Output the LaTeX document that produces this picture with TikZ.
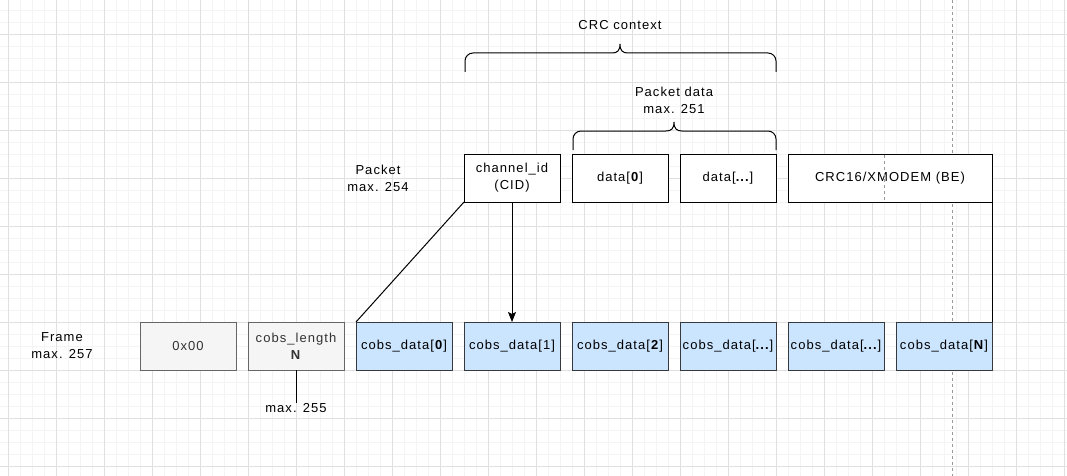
\documentclass[tikz,border=0pt]{standalone}
\usepackage{fontspec}
\setmainfont{Liberation Sans}[LetterSpace=8]
\usepackage{xcolor}
\usepackage{tikz}
\usetikzlibrary{arrows.meta}
\definecolor{gridmajor}{HTML}{E0E0E0}
\definecolor{gridminor}{HTML}{F4F4F4}
\definecolor{greyfill}{HTML}{F5F5F5}
\definecolor{greyline}{HTML}{666666}
\definecolor{greytext}{HTML}{333333}
\definecolor{bluefill}{HTML}{CCE5FF}
\definecolor{blueline}{HTML}{36393D}

\begin{document}
\begin{tikzpicture}[
    x=1pt, y=-1pt,
    node distance=108pt,
    font=\fontsize{13}{17}\selectfont,
    field/.style={rectangle, draw, line width=1pt,
                  minimum width=96pt, minimum height=48pt,
                  inner sep=0pt, outer sep=0pt, align=center},
    fixed/.style={field, fill=greyfill, draw=greyline, text=greytext},
    cobs/.style={field, fill=bluefill, draw=blueline},
    pkt/.style={field, fill=white, draw=black},
    caption/.style={align=center, inner sep=0pt},
    conn/.style={line width=1pt},
    curly/.style={line width=1pt},
    pagebreak/.style={draw=black!40, line width=0.8pt, dash pattern=on 3pt off 3pt}
]
\useasboundingbox[fill=white] (0,0) rectangle (1067,476);
\foreach \x in {-4,8,...,1064} \draw[gridminor, line width=0.8pt] (\x,0) -- (\x,476);
\foreach \y in {-2,10,...,470} \draw[gridminor, line width=0.8pt] (0,\y) -- (1067,\y);
\foreach \x in {8,56,...,1064} \draw[gridmajor, line width=0.8pt] (\x,0) -- (\x,476);
\foreach \y in {34,82,...,466} \draw[gridmajor, line width=0.8pt] (0,\y) -- (1067,\y);
\draw[pagebreak] (952,0) -- (952,476);

\node[caption] (framelbl) at (62,346) {Frame\\max. 257};
\node[fixed] (sof) at (188,346) {0x00};
\node[fixed, right of=sof] (len) {cobs\_length\\\textbf{N}};
\node[cobs, right of=len] (cd0) {cobs\_data[\textbf{0}]};
\node[cobs, right of=cd0] (cd1) {cobs\_data[1]};
\node[cobs, right of=cd1] (cd2) {cobs\_data[\textbf{2}]};
\node[cobs, right of=cd2] (cd3) {cobs\_data[\textbf{...}]};
\node[cobs, right of=cd3] (cd4) {cobs\_data[\textbf{...}]};
\node[cobs, right of=cd4] (cdN) {cobs\_data[\textbf{N}]};
\node[caption] (lenmax) at (296,408) {max. 255};

\node[caption] (pktlbl) at (378,178) {Packet\\max. 254};
\node[pkt] (cid) at (512,178) {channel\_id\\(CID)};
\node[pkt, right of=cid] (d0) {data[\textbf{0}]};
\node[pkt, right of=d0] (dx) {data[\textbf{...}]};
\node[pkt, right of=dx, xshift=54pt, minimum width=204pt] (crc) {CRC16/XMODEM (BE)};
\draw[pagebreak] (884,155) -- (884,201);

\node[caption] (crclbl) at (620,25) {CRC context};
\node[caption] (datalbl) at (674,100) {Packet data\\max. 251};

\draw[curly] (465,72) -- (465,61) arc[start angle=180, end angle=270, radius=8]
    -- (612,53) .. controls (617,53) and (620,51) .. (620,44)
    .. controls (620,51) and (623,53) .. (628,53)
    -- (768,53) arc[start angle=270, end angle=360, radius=8] -- (776,72);
\draw[curly] (573,150) -- (573,139) arc[start angle=180, end angle=270, radius=8]
    -- (666,131) .. controls (671,131) and (674,129) .. (674,122)
    .. controls (674,129) and (677,131) .. (682,131)
    -- (768,131) arc[start angle=270, end angle=360, radius=8] -- (776,150);

\draw[conn] (len.south) -- (lenmax.north);
\draw[conn] (cid.south west) -- (cd0.north west);
\draw[conn, -{Stealth[length=10pt, width=8pt, inset=2pt]}] (cid.south) -- (cd1.north);
\draw[conn] (crc.south east) -- (cdN.north east);
\end{tikzpicture}
\end{document}
